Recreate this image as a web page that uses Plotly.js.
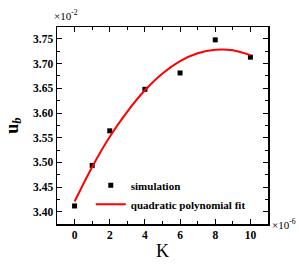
<!DOCTYPE html>
<html><head><meta charset="utf-8">
<script src="https://cdn.plot.ly/plotly-3.0.1.min.js"></script>
<style>html,body{margin:0;padding:0;background:#fff}#c{width:299px;height:265px}</style>
</head><body><div id="c"></div>
<script>
// simulation data (K in 1e-6, u_b in 1e-2)
const simK = [0, 1, 2, 4, 6, 8, 10];
const simU = [3.412, 3.494, 3.564, 3.648, 3.681, 3.748, 3.713];
// fitted curve
const fitK = [0, 1, 2, 3, 4, 5, 6, 7, 8, 9, 10];
const fitU = [3.421, 3.491, 3.552, 3.603, 3.646, 3.680, 3.705, 3.721, 3.728, 3.727, 3.717];
const xTicks = [0, 2, 4, 6, 8, 10];
const yTicks = [3.40, 3.45, 3.50, 3.55, 3.60, 3.65, 3.70, 3.75];

const serif = "Liberation Serif, Times New Roman, serif";
const traces = [
  {x: simK, y: simU, mode: 'markers', type: 'scatter', name: '<b>simulation</b>',
   marker: {symbol: 'square', size: 5, color: '#000'}},
  {x: fitK, y: fitU, mode: 'lines', type: 'scatter', name: '<b>quadratic polynomial fit</b>',
   line: {color: '#ff0000', width: 2, shape: 'spline'}}
];
const axisCommon = {
  showgrid: false, zeroline: false, showline: true, linecolor: '#000', linewidth: 1.5,
  mirror: 'ticks', ticks: 'inside', ticklen: 5, tickwidth: 1, tickcolor: '#000',
  tickfont: {family: serif, size: 11.5, color: '#000', weight: 'bold'}
};
const layout = {
  width: 299, height: 265,
  margin: {l: 57, r: 31, t: 27, b: 41},
  paper_bgcolor: '#fff', plot_bgcolor: '#fff',
  showlegend: true,
  legend: {x: 0.16, y: 0.27, xanchor: 'left', yanchor: 'top', bgcolor: 'rgba(0,0,0,0)',
    font: {family: serif, size: 11, color: '#000'}, tracegroupgap: 0, itemwidth: 30},
  xaxis: Object.assign({}, axisCommon, {
    range: [-1, 11], tickvals: xTicks, ticktext: xTicks.map(String),
    minor: {ticks: 'inside', ticklen: 3, tickwidth: 1, tickcolor: '#000', dtick: 1, tick0: 0},
    title: {text: 'K', font: {family: serif, size: 18, color: '#000'}, standoff: 4}
  }),
  yaxis: Object.assign({}, axisCommon, {
    range: [3.3755, 3.774], tickvals: yTicks, ticktext: yTicks.map(v => v.toFixed(2)),
    minor: {ticks: 'inside', ticklen: 3, tickwidth: 1, tickcolor: '#000', dtick: 0.025, tick0: 3.4},
    title: {text: '<b>u</b><sub><i><b>b</b></i></sub>', font: {family: serif, size: 18, color: '#000'}, standoff: 10}
  }),
  annotations: [
    {xref: 'paper', yref: 'paper', x: -0.025, y: 1.0, xanchor: 'left', yanchor: 'bottom', yshift: 3,
     text: '×10<sup>-2</sup>', showarrow: false, font: {family: serif, size: 11, color: '#000'}},
    {xref: 'paper', yref: 'paper', x: 1.0, y: 0, xanchor: 'left', yanchor: 'middle', xshift: 2,
     text: '×10<sup>-6</sup>', showarrow: false, font: {family: serif, size: 11, color: '#000'}}
  ]
};
Plotly.newPlot('c', traces, layout, {displayModeBar: false, staticPlot: true});
</script></body></html>
